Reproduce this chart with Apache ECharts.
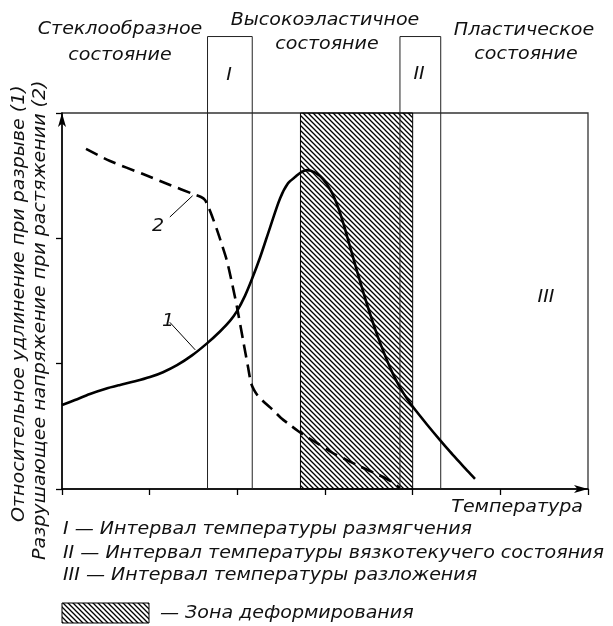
<!DOCTYPE html>
<html>
<head>
<meta charset="utf-8">
<script src="https://cdn.jsdelivr.net/npm/echarts@6/dist/echarts.min.js"></script>
<style>
html, body { margin: 0; padding: 0; background: #fff; }
#chart { width: 613px; height: 626px; }
</style>
</head>
<body>
<div id="chart"></div>
<script>
// ось температуры (условные деления) и ось напряжения/удлинения
var xMin = 0, xMax = 6, yMin = 0, yMax = 3;

// границы интервалов I, II и зоны деформирования (в делениях оси X)
var intervalI = [1.66, 2.17];
var intervalII = [3.855, 4.32];
var deformZone = [2.72, 4.0];
var boxTop = 3.61; // верх рамок I и II над графиком

// кривая 1 - относительное удлинение при разрыве
var curve1X = [0, 0.148, 0.319, 0.49, 0.662, 0.833, 1.004, 1.152, 1.312, 1.483, 1.654, 1.802, 1.916, 1.996, 2.087, 2.167, 2.259, 2.373, 2.487, 2.578, 2.669, 2.726, 2.795, 2.886, 2.977, 3.068, 3.148, 3.217, 3.285, 3.377, 3.479, 3.593, 3.707, 3.776, 3.855, 3.935, 4.004, 4.163, 4.312, 4.426, 4.54, 4.631, 4.711];
var curve1Y = [0.67, 0.71, 0.758, 0.798, 0.83, 0.859, 0.893, 0.932, 0.988, 1.066, 1.162, 1.257, 1.341, 1.419, 1.541, 1.675, 1.847, 2.086, 2.318, 2.439, 2.495, 2.527, 2.544, 2.525, 2.473, 2.378, 2.25, 2.102, 1.934, 1.711, 1.474, 1.234, 1.027, 0.917, 0.811, 0.721, 0.654, 0.515, 0.39, 0.298, 0.21, 0.14, 0.081];

// кривая 2 - разрушающее напряжение при растяжении
var curve2X = [0.274, 0.548, 0.924, 1.232, 1.494, 1.586, 1.631, 1.665, 1.711, 1.768, 1.825, 1.882, 1.939, 1.996, 2.065, 2.122, 2.156, 2.19, 2.236, 2.316, 2.407, 2.498, 2.601, 2.692, 2.795, 2.943, 3.091, 3.228, 3.365, 3.513, 3.662, 3.764, 3.855];
var curve2Y = [2.713, 2.617, 2.513, 2.426, 2.354, 2.33, 2.306, 2.258, 2.178, 2.067, 1.947, 1.819, 1.644, 1.452, 1.189, 0.973, 0.846, 0.79, 0.742, 0.686, 0.63, 0.567, 0.511, 0.463, 0.415, 0.351, 0.287, 0.239, 0.191, 0.144, 0.096, 0.056, 0.008];

// выноски к номерам кривых
var leader1 = [[1.23, 1.33], [1.52, 1.11]];
var leader2 = [[1.23, 2.17], [1.49, 2.34]];

// подписи
var stateLabels = [['Стеклообразное', 'состояние'], ['Высокоэластичное', 'состояние'], ['Пластическое', 'состояние']];
var yTitles = ['Относительное удлинение при разрыве (1)', 'Разрушающее напряжение при растяжении (2)'];
var xTitle = 'Температура';
var notes = ['I \u2014 Интервал температуры размягчения', 'II \u2014 Интервал температуры вязкотекучего состояния', 'III \u2014 Интервал температуры разложения'];
var zoneNote = '\u2014 Зона деформирования';

var FONT = '"DejaVu Sans", sans-serif';
var STRETCH = 1.12; // шрифт на рисунке шире, чем DejaVu

function zip(xs, ys) {
    var out = [];
    for (var i = 0; i < xs.length; i++) {
        out.push([xs[i], ys[i]]);
    }
    return out;
}

function boxPoints(range) {
    return [[range[0], 0], [range[0], boxTop], [range[1], boxTop], [range[1], 0]];
}

// штриховка 45 градусов
function makeHatch() {
    var c = document.createElement('canvas');
    var s = 5;
    c.width = s;
    c.height = s;
    var ctx = c.getContext('2d');
    ctx.strokeStyle = '#000';
    ctx.lineWidth = 1.3;
    ctx.beginPath();
    ctx.moveTo(-1, -1); ctx.lineTo(s + 1, s + 1);
    ctx.moveTo(-1, s - 1); ctx.lineTo(1, s + 1);
    ctx.moveTo(s - 1, -1); ctx.lineTo(s + 1, 1);
    ctx.stroke();
    return c;
}

function txt(str, x, y, align, rot) {
    return {
        type: 'text',
        x: x,
        y: y,
        rotation: rot || 0,
        scaleX: STRETCH,
        silent: true,
        style: {
            text: str,
            font: 'italic 17px ' + FONT,
            fill: '#111',
            textAlign: align || 'left',
            textVerticalAlign: 'middle'
        }
    };
}

var hatch = makeHatch();
var chart = echarts.init(document.getElementById('chart'), null, { renderer: 'canvas' });

var thin = { color: '#222', width: 1 };

var option = {
    animation: false,
    backgroundColor: '#fff',
    grid: {
        left: 62, right: 25, top: 113, bottom: 137,
        show: true, borderColor: '#333', borderWidth: 1.3, backgroundColor: 'transparent'
    },
    xAxis: {
        type: 'value', min: xMin, max: xMax, interval: 1,
        axisLine: { lineStyle: { color: '#000', width: 1.5 }, symbol: ['none', 'arrow'], symbolSize: [6, 14] },
        axisTick: { length: 6, lineStyle: { color: '#000', width: 1.3 } },
        axisLabel: { show: false },
        splitLine: { show: false }
    },
    yAxis: {
        type: 'value', min: yMin, max: yMax, interval: 1,
        axisLine: { lineStyle: { color: '#000', width: 1.5 }, symbol: ['none', 'arrow'], symbolSize: [6, 14] },
        axisTick: { length: 6, lineStyle: { color: '#000', width: 1.3 } },
        axisLabel: { show: false },
        splitLine: { show: false }
    },
    series: [
        {
            type: 'line', name: 'zone', data: [], z: 1,
            markArea: {
                silent: true,
                itemStyle: { color: { image: hatch, repeat: 'repeat' }, borderColor: '#000', borderWidth: 1 },
                data: [[{ xAxis: deformZone[0], yAxis: yMin }, { xAxis: deformZone[1], yAxis: yMax }]]
            }
        },
        { type: 'line', name: 'I', data: boxPoints(intervalI), clip: false, symbol: 'none', lineStyle: thin, z: 2 },
        { type: 'line', name: 'II', data: boxPoints(intervalII), clip: false, symbol: 'none', lineStyle: thin, z: 2 },
        { type: 'line', name: 'lead1', data: leader1, symbol: 'none', lineStyle: { color: '#000', width: 1 }, z: 3 },
        { type: 'line', name: 'lead2', data: leader2, symbol: 'none', lineStyle: { color: '#000', width: 1 }, z: 3 },
        {
            type: 'line', name: '1', data: zip(curve1X, curve1Y), smooth: 0.3, symbol: 'none', z: 4,
            lineStyle: { color: '#000', width: 2.6, join: 'round' }
        },
        {
            type: 'line', name: '2', data: zip(curve2X, curve2Y), smooth: 0.25, symbol: 'none', z: 4,
            lineStyle: { color: '#000', width: 2.6, type: [13, 7], join: 'round' }
        }
    ],
    graphic: [
        txt(stateLabels[0][0], 120, 30, 'center'),
        txt(stateLabels[0][1], 120, 56, 'center'),
        txt(stateLabels[1][0], 325, 21, 'center'),
        txt(stateLabels[1][1], 327, 45, 'center'),
        txt(stateLabels[2][0], 524, 31, 'center'),
        txt(stateLabels[2][1], 526, 55, 'center'),
        txt('I', 229, 76, 'center'),
        txt('II', 419, 75, 'center'),
        txt('III', 546, 298, 'center'),
        txt('1', 168, 322, 'center'),
        txt('2', 158, 227, 'center'),
        txt(yTitles[0], 20, 522, 'left', Math.PI / 2),
        txt(yTitles[1], 41, 560, 'left', Math.PI / 2),
        txt(xTitle, 583, 508, 'right'),
        txt(notes[0], 63, 530),
        txt(notes[1], 63, 554),
        txt(notes[2], 63, 576),
        {
            type: 'rect', silent: true,
            shape: { x: 62, y: 603, width: 87, height: 20 },
            style: { fill: { image: hatch, repeat: 'repeat' }, stroke: '#000', lineWidth: 1 }
        },
        txt(zoneNote, 160, 614)
    ]
};

chart.setOption(option);
</script>
</body>
</html>
